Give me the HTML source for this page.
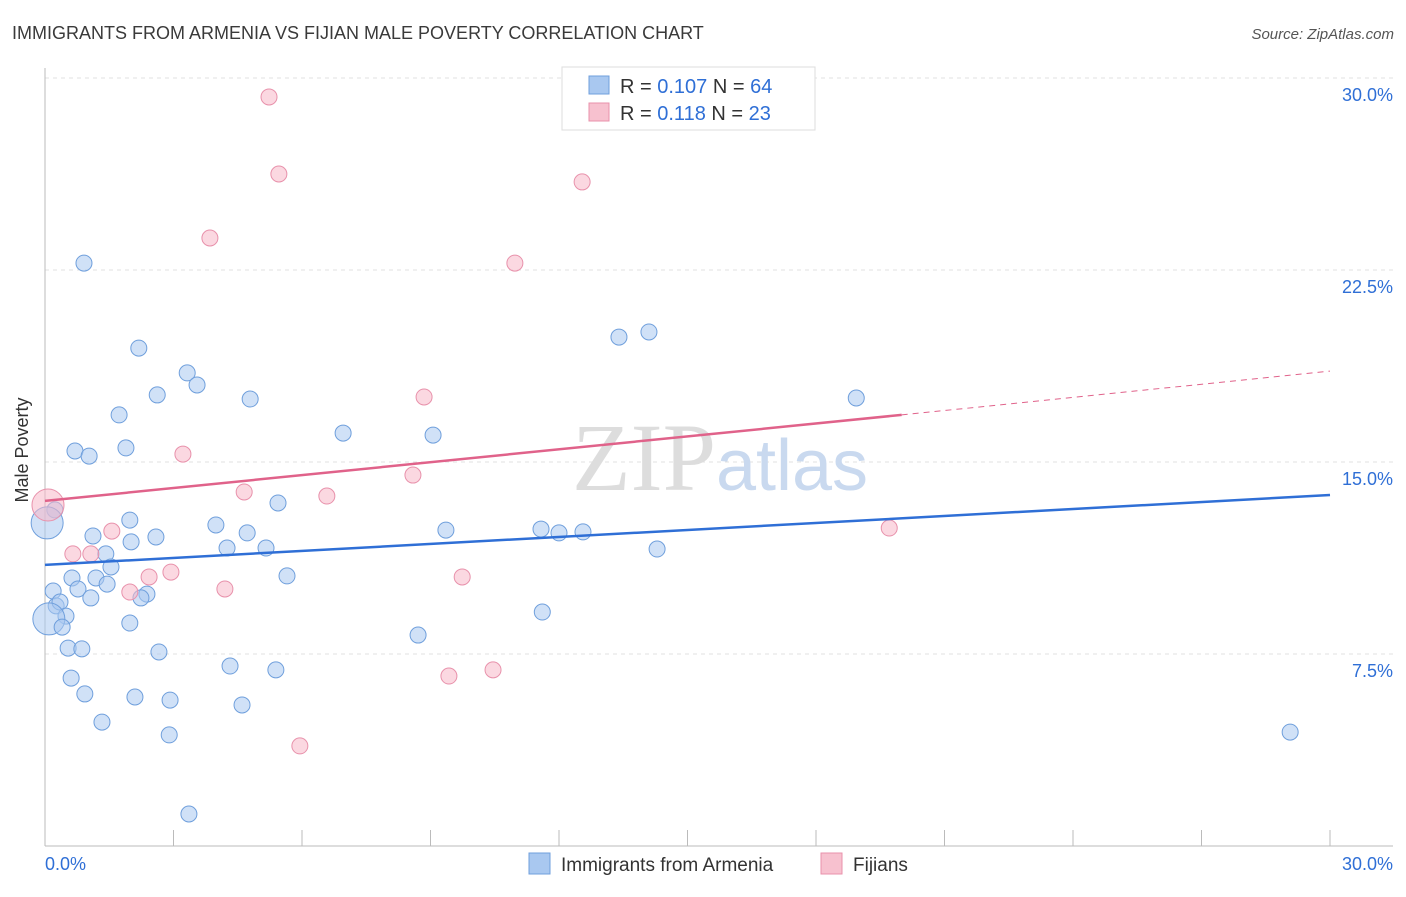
<!DOCTYPE html>
<html><head><meta charset="utf-8"><style>
body{margin:0;background:#fff;font-family:"Liberation Sans",sans-serif;}
</style></head><body>
<svg id="c" width="1406" height="892" xmlns="http://www.w3.org/2000/svg" style="font-family:'Liberation Sans',sans-serif">
<text x="12" y="39" font-size="18" fill="#3a3a3a">IMMIGRANTS FROM ARMENIA VS FIJIAN MALE POVERTY CORRELATION CHART</text>
<text x="1394" y="39" font-size="15" fill="#555" text-anchor="end" font-style="italic">Source: ZipAtlas.com</text>
<text x="34" y="456" font-size="18" fill="#333" text-anchor="middle" transform="rotate(-90 28 456)">Male Poverty</text>
<g id="grid"></g>
<text x="720" y="490" font-size="96" fill="#ddd" text-anchor="middle" font-family="Liberation Serif">ZIP<tspan fill="#c9d9ef" font-family="Liberation Sans" font-size="72">atlas</tspan></text>
<g id="marks"></g>
<g>
<rect x="562" y="67" width="253" height="63" fill="#fff" stroke="#ddd"/>
<rect x="589" y="76" width="20" height="18" fill="#a9c8f0" stroke="#6f9fdc"/>
<text x="620" y="93" font-size="20" fill="#333">R = <tspan fill="#2f6fd6">0.107</tspan>   N = <tspan fill="#2f6fd6">64</tspan></text>
<rect x="589" y="103" width="20" height="18" fill="#f7c1cf" stroke="#e891ab"/>
<text x="620" y="120" font-size="20" fill="#333">R =  <tspan fill="#2f6fd6">0.118</tspan>   N = <tspan fill="#2f6fd6">23</tspan></text>
</g>
<g>
<rect x="529" y="853" width="21" height="21" fill="#a9c8f0" stroke="#6f9fdc"/>
<text x="561" y="871" font-size="19" fill="#333">Immigrants from Armenia</text>
<rect x="821" y="853" width="21" height="21" fill="#f7c1cf" stroke="#e891ab"/>
<text x="853" y="871" font-size="19" fill="#333">Fijians</text>
</g>
</svg>
<script>
const yTicks=[7.5,15,22.5,30];
const xTickLabels=["0.0%","30.0%"];
const blueX=[0.91,2.19,3.32,3.55,2.62,4.79,1.73,0.70,1.03,1.89,6.96,9.06,13.40,14.10,18.94,0.23,1.98,1.12,3.99,4.72,5.44,2.59,2.01,1.42,4.25,5.16,9.36,11.58,12.0,12.56,14.29,1.54,0.63,1.19,1.45,5.65,0.19,0.77,1.07,2.38,2.24,0.26,0.35,0.49,0.09,0.40,1.98,11.61,8.71,0.54,0.86,2.66,4.32,5.39,0.61,0.93,2.10,2.92,4.60,1.33,2.90,29.07,3.36,0.05];
const blueY=[22.77,19.45,18.48,18.01,17.62,17.46,16.84,15.43,15.23,15.55,16.13,16.05,19.88,20.08,17.5,13.13,12.73,12.11,12.54,12.23,13.40,12.07,11.88,11.41,11.64,11.64,12.34,12.38,12.23,12.27,11.60,10.90,10.47,10.47,10.23,10.55,9.96,10.04,9.69,9.84,9.69,9.38,9.53,8.98,8.87,8.55,8.71,9.14,8.24,7.73,7.70,7.58,7.03,6.88,6.56,5.94,5.82,5.70,5.51,4.84,4.34,4.45,1.25,12.62];
const pinkX=[5.23,5.46,12.54,3.85,10.97,8.85,3.22,4.65,6.58,8.59,0.07,1.56,0.65,1.07,2.94,2.43,9.74,19.71,1.98,4.20,9.43,10.46,5.95];
const pinkY=[29.26,26.25,25.94,23.75,22.77,17.54,15.31,13.83,13.67,14.49,13.32,12.30,11.41,11.41,10.70,10.51,10.51,12.42,9.92,10.04,6.64,6.88,3.91];
const blueTrend=[10.98,13.71];
const pinkTrend=[13.48,16.84,18.55];
const pinkSolidEnd=20.0;
const NS="http://www.w3.org/2000/svg";
const X=v=>45+v/30*1285, Y=v=>846-v*25.6;
function mk(t,a,p){const e=document.createElementNS(NS,t);for(const k in a)e.setAttribute(k,a[k]);p.appendChild(e);return e;}
const g=document.getElementById('grid'), m=document.getElementById('marks');
yTicks.forEach(t=>{
 const l=mk('line',{x1:45,x2:1393,y1:Y(t),y2:Y(t),stroke:'#e2e2e2','stroke-dasharray':'4,4'},g);
 
 
 const tx=mk('text',{x:1393,y:Y(t)+23,'font-size':18,fill:'#2f6fd6','text-anchor':'end'},g);
 tx.textContent=t.toFixed(1)+'%';
 
 
});
const ax=mk('line',{x1:45,x2:45,y1:68,y2:846,stroke:'#bbb'},g);


const bx=mk('line',{x1:45,x2:1393,y1:846,y2:846,stroke:'#bbb'},g);


for(let i=0;i<=10;i++){const tk=mk('line',{x1:X(i*3),x2:X(i*3),y1:830,y2:846,stroke:'#bbb'},g);
 
 }
[[0,'start',45],[1,'end',1393]].forEach(([i,a,x])=>{const t=mk('text',{x:x,y:870,'font-size':18,fill:'#2f6fd6','text-anchor':a},g);t.textContent=xTickLabels[i];
 
 });
function pts(xs,ys,f,s,name){xs.forEach((x,i)=>{const big=(x<0.1);
 const c=mk('circle',{cx:X(x),cy:Y(ys[i]),r:big?16:8,fill:f,'fill-opacity':0.55,stroke:s,'stroke-width':1},m);
 
 });}
pts(blueX,blueY,'#a9c8f0','#6f9fdc','armenia-point');
pts(pinkX,pinkY,'#f7b8c8','#e891ab','fijian-point');
const bl=mk('line',{x1:X(0),y1:Y(blueTrend[0]),x2:X(30),y2:Y(blueTrend[1]),stroke:'#2f6fd6','stroke-width':2.5},m);


const pl=mk('line',{x1:X(0),y1:Y(pinkTrend[0]),x2:X(pinkSolidEnd),y2:Y(pinkTrend[1]),stroke:'#e0628a','stroke-width':2.5},m);


const pd=mk('line',{x1:X(pinkSolidEnd),y1:Y(pinkTrend[1]),x2:X(30),y2:Y(pinkTrend[2]),stroke:'#e0628a','stroke-width':1,'stroke-dasharray':'6,5'},m);


</script>
</body></html>
